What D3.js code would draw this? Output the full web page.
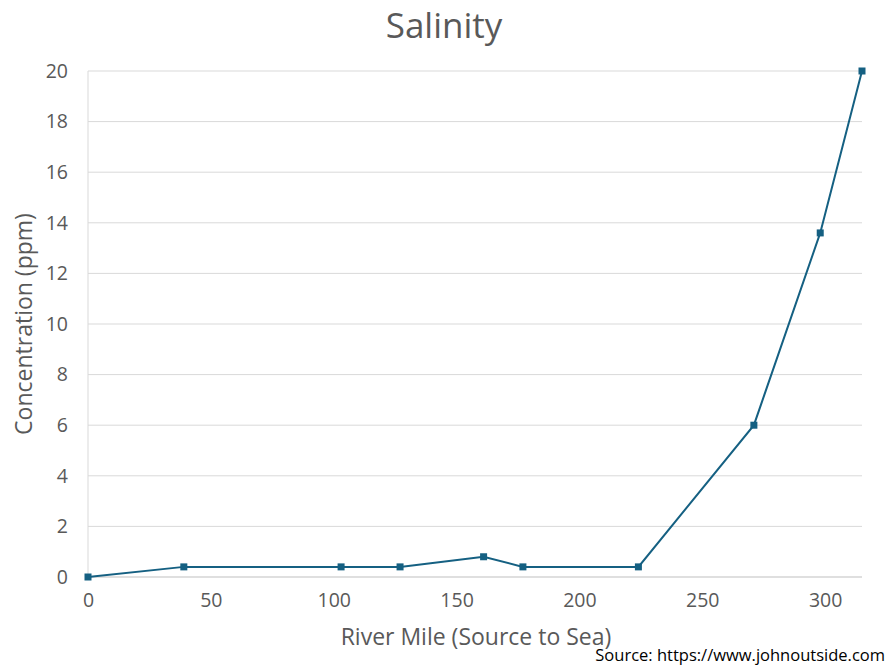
<!DOCTYPE html>
<html><head><meta charset="utf-8">
<script src="https://cdn.jsdelivr.net/npm/d3@7/dist/d3.min.js"></script>
<style>body{margin:0;background:#fff}text{font-family:"Open Sans","Noto Sans",sans-serif}</style>
</head><body><svg id="c" width="892" height="668"></svg>
<script>
const riverMile = [0, 39, 103, 127, 161, 177, 224, 271, 298, 315];
const salinity = [0, 0.4, 0.4, 0.4, 0.8, 0.4, 0.4, 6, 13.6, 20];
const xTicks = [0, 50, 100, 150, 200, 250, 300];
const yTicks = [0, 2, 4, 6, 8, 10, 12, 14, 16, 18, 20];

const svg = d3.select("#c");
const m = {l: 88, r: 862, t: 71, b: 577};
const x = d3.scaleLinear().domain([0, 315]).range([m.l, m.r]);
const y = d3.scaleLinear().domain([0, 20]).range([m.b, m.t]);
const grey = "#595959";

svg.append("g").selectAll("line").data(yTicks.filter(d=>d>0)).join("line")
  .attr("x1", m.l).attr("x2", m.r).attr("y1", d=>y(d)).attr("y2", d=>y(d))
  .attr("stroke", "#D9D9D9").attr("stroke-width", 1);
svg.append("line").attr("x1", m.l).attr("x2", m.r).attr("y1", y(0)).attr("y2", y(0)).attr("stroke", "#BFBFBF");
svg.append("line").attr("x1", m.l).attr("x2", m.l).attr("y1", m.t).attr("y2", m.b).attr("stroke", "#D9D9D9");

const yAxis = d3.axisLeft(y).tickValues(yTicks).tickSize(0).tickPadding(20);
const gy = svg.append("g").attr("transform", `translate(${m.l},0)`).call(yAxis);
gy.select(".domain").remove();
gy.selectAll("text").attr("fill", grey).style("font-size", "19.5px");

const xAxis = d3.axisBottom(x).tickValues(xTicks).tickSize(0).tickPadding(16);
const gx = svg.append("g").attr("transform", `translate(0,${m.b})`).call(xAxis);
gx.select(".domain").remove();
gx.selectAll("text").attr("fill", grey).style("font-size", "19.5px");

const data = riverMile.map((d,i)=>({x:d, y:salinity[i]}));
svg.append("path").datum(data)
  .attr("d", d3.line().x(d=>x(d.x)).y(d=>y(d.y)))
  .attr("fill", "none").attr("stroke", "#156082").attr("stroke-width", 2);
svg.append("g").selectAll("rect").data(data).join("rect")
  .attr("x", d=>x(d.x)-3.5).attr("y", d=>y(d.y)-3.5).attr("width", 7).attr("height", 7)
  .attr("fill", "#156082");

svg.append("text").attr("x", 444).attr("y", 38).attr("text-anchor", "middle")
  .attr("fill", grey).style("font-size", "35px").text("Salinity");
svg.append("text").attr("x", 476).attr("y", 645).attr("text-anchor", "middle")
  .attr("fill", grey).style("font-size", "23px").text("River Mile (Source to Sea)");
svg.append("text").attr("transform", "translate(32,324) rotate(-90)").attr("text-anchor", "middle")
  .attr("fill", grey).style("font-size", "23px").text("Concentration (ppm)");
svg.append("text").attr("x", 885).attr("y", 661).attr("text-anchor", "end")
  .attr("fill", "#000").style("font-size", "16.5px").text("Source: https://www.johnoutside.com");
</script></body></html>
